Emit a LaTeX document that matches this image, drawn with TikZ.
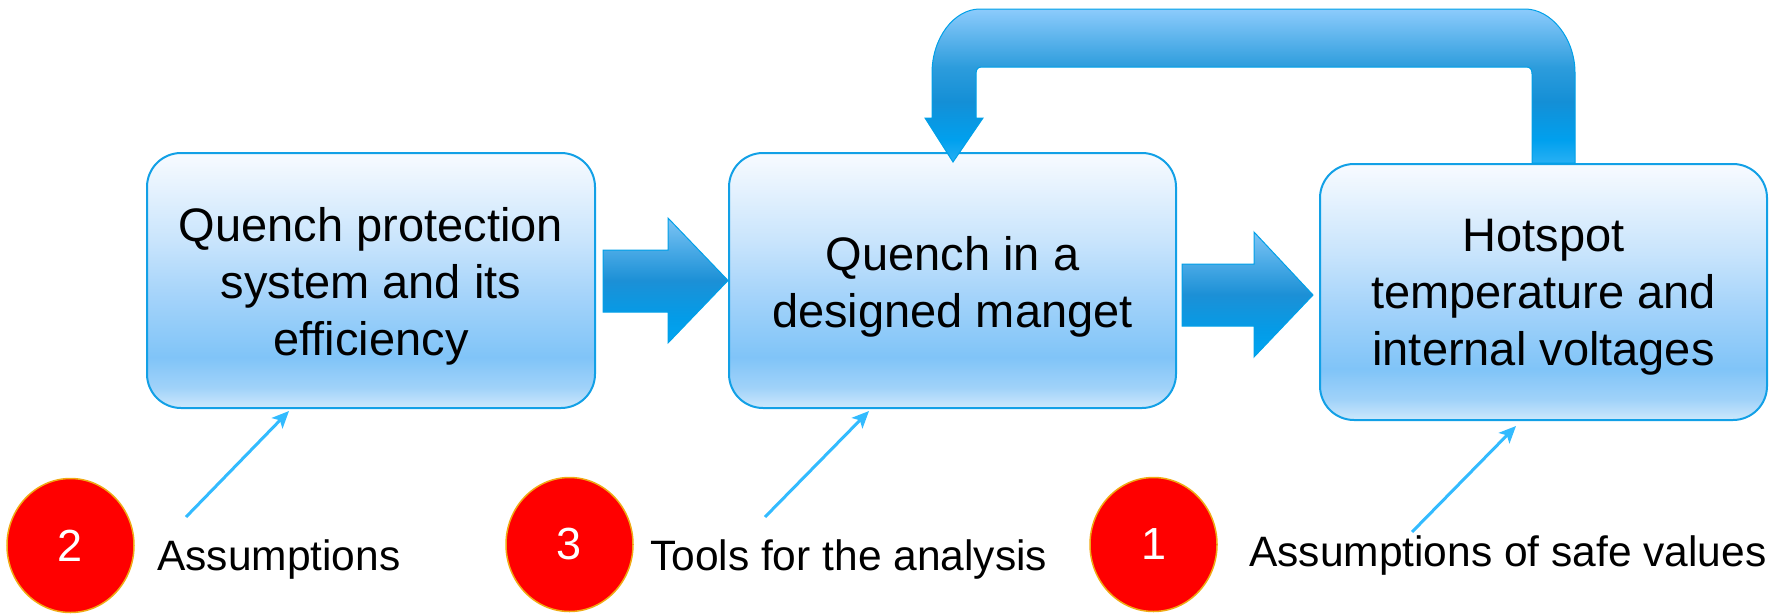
\documentclass[tikz,border=0pt]{standalone}
\usepackage{fontspec}
\setmainfont{Liberation Sans}
\usetikzlibrary{shapes.geometric,arrows.meta,calc}
\definecolor{boxborder}{RGB}{18,160,230}
\definecolor{arrowborder}{RGB}{0,160,232}
\definecolor{pointerblue}{RGB}{51,187,255}
\definecolor{circborder}{RGB}{240,170,20}
\definecolor{bxA}{RGB}{205,232,252}
\definecolor{bxB}{RGB}{160,210,249}
\definecolor{bxC}{RGB}{128,196,248}
\definecolor{bxD}{RGB}{166,212,250}
\definecolor{bxE}{RGB}{200,228,252}
\definecolor{bxF}{RGB}{248,251,255}
\definecolor{haA}{RGB}{126,196,244}
\definecolor{haB}{RGB}{74,170,230}
\definecolor{haC}{RGB}{28,144,214}
\definecolor{haD}{RGB}{3,156,232}
\definecolor{haE}{RGB}{0,166,242}
\definecolor{fbA}{RGB}{140,203,252}
\definecolor{fbB}{RGB}{44,156,220}
\definecolor{fbC}{RGB}{20,143,214}
\definecolor{fbD}{RGB}{0,160,238}
\definecolor{fbE}{RGB}{40,176,244}
\pgfdeclareverticalshading{boxshade}{100bp}{color(0bp)=(bxA); color(25bp)=(bxA); color(29bp)=(bxB); color(35bp)=(bxC); color(47.5bp)=(bxD); color(57.5bp)=(bxE); color(75bp)=(bxF); color(100bp)=(bxF)}
\pgfdeclareverticalshading{harrowshade}{100bp}{color(0bp)=(haE); color(25bp)=(haE); color(35bp)=(haD); color(50bp)=(haC); color(62.5bp)=(haB); color(75bp)=(haA); color(100bp)=(haA)}
\pgfdeclareverticalshading{fbshade}{100bp}{color(0bp)=(fbE); color(25bp)=(fbE); color(32.5bp)=(fbD); color(45bp)=(fbC); color(56bp)=(fbB); color(75bp)=(fbA); color(100bp)=(fbA)}
\begin{document}
\begin{tikzpicture}[x=1pt,y=-1pt,
  boxnode/.style={draw=boxborder,line width=2pt,rounded corners=34pt,shading=boxshade,minimum height=255pt,inner sep=0pt},
  boxtext/.style={align=center,font=\fontsize{47}{57}\selectfont,inner sep=0pt},
  blockarrow/.style={shading=harrowshade,draw=arrowborder,line width=1pt},
  fbarrow/.style={shading=fbshade,draw=arrowborder,line width=1pt},
  pointer/.style={draw=pointerblue,line width=3pt,-{Stealth[length=17pt,width=15pt,inset=4pt]}},
  numcirc/.style={ellipse,fill=red,draw=circborder,line width=1.5pt,minimum width=127pt,minimum height=134pt,inner sep=0pt,text=white,font=\fontsize{45}{50}\selectfont},
  lbl/.style={inner sep=0pt,anchor=base west,font=\fontsize{42.5}{50}\selectfont}]
\useasboundingbox (0,0) rectangle (1779,613);
% boxes
\node[boxnode,minimum width=448pt] (b1) at (371,280.5) {};
\node[boxnode,minimum width=447pt] (b2) at (952.5,280.5) {};
\node[boxnode,minimum width=447pt,minimum height=256pt] (b3) at (1543.5,292) {};
\node[boxtext] (t1) at ($(b1.center)+(0,6)$) {Quench protection\\system and its\\efficiency};
\node[boxtext] (t2) at ($(b2.center)+(0,6)$) {Quench in a\\designed manget};
\node[boxtext] (t3) at ($(b3.center)+(0,5)$) {Hotspot\\temperature and\\internal voltages};
% block arrows
\draw[blockarrow] ($(b1.east)+(7,-30.5)$) -- ++(65,0) -- ++(0,-32) -- (b2.west) -- ($(b1.east)+(72,62.5)$) -- ++(0,-31) -- ++(-65,0) -- cycle;
\coordinate (a2tip) at ($(b3.west)+(-6,3)$);
\draw[blockarrow] (1182,264) -- (1254,264) -- (1254,232) -- (a2tip) -- (1254,357) -- (1254,326) -- (1182,326) -- cycle;
% feedback arrow
\coordinate (fbtip) at ($(b2.north west)+(225,10)$);
\draw[fbarrow] (1532,163) -- (1532,74) .. controls (1532,69) and (1530,67) .. (1526,67)
  -- (982,67) .. controls (978,67) and (976,69) .. (976,74) -- (976,118) -- (983,118) -- (fbtip)
  -- (925,118) -- (932,118) -- (932,73) .. controls (932,38) and (954,9) .. (980,9)
  -- (1525,9) .. controls (1551,9) and (1575,38) .. (1575,73) -- (1575,163) -- cycle;
% pointer lines
\coordinate (p2) at (186,517);
\coordinate (p3) at (765,517);
\coordinate (p1) at (1412,532);
\draw[pointer] (p2) -- ($(b1.south west)+(143,2)$);
\draw[pointer] (p3) -- ($(b2.south west)+(141,2)$);
\draw[pointer] (p1) -- ($(b3.south west)+(197,5)$);
% numbered circles
\node[numcirc] (c2) at (70.5,545.5) {2};
\node[numcirc] (c3) at (569.5,544.5) {3};
\node[numcirc] (c1) at (1153.5,544.5) {1};
% labels
\node[lbl] (l2) at (157,570) {Assumptions};
\node[lbl] (l3) at (650,570) {Tools for the analysis};
\node[lbl] (l1) at (1249,566) {Assumptions of safe values};
\end{tikzpicture}
\end{document}
